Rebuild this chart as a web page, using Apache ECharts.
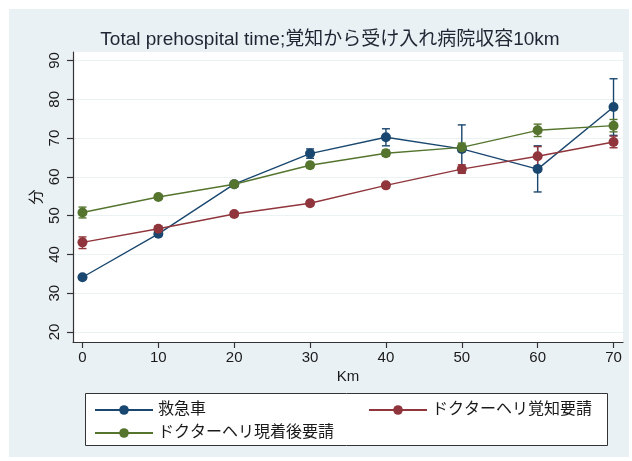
<!DOCTYPE html>
<html><head><meta charset="utf-8">
<script src="https://cdn.jsdelivr.net/npm/echarts@6/dist/echarts.min.js"></script>
<style>html,body{margin:0;padding:0;background:#fff}#c{width:632px;height:461px}</style>
</head><body><div id="c"></div>
<script>
const km = [0, 10, 20, 30, 40, 50, 60, 70];
const xTicks = [0, 10, 20, 30, 40, 50, 60, 70];
const yTicks = [20, 30, 40, 50, 60, 70, 80, 90];

const names = ['救急車', 'ドクターヘリ覚知要請', 'ドクターヘリ現着後要請'];

const ambulance   = [34.1, 45.3, 58.1, 66.0, 70.2, 67.2, 62.0, 78.0];
const ambulanceLo = [33.6, 44.7, 57.5, 64.8, 68.0, 61.1, 56.1, 70.7];
const ambulanceHi = [34.6, 45.9, 58.7, 67.2, 72.4, 73.4, 68.0, 85.3];

const heliCall    = [43.1, 46.6, 50.4, 53.2, 57.8, 62.0, 65.3, 69.0];
const heliCallLo  = [41.5, 45.9, 49.8, 52.6, 57.1, 60.9, 62.8, 67.5];
const heliCallHi  = [44.5, 47.3, 51.0, 53.8, 58.5, 63.1, 67.8, 70.5];

const heliScene   = [50.8, 54.8, 58.1, 63.0, 66.1, 67.6, 72.0, 73.2];
const heliSceneLo = [49.4, 54.2, 57.4, 62.3, 65.3, 66.5, 70.4, 71.6];
const heliSceneHi = [52.2, 55.4, 58.8, 63.7, 66.9, 68.7, 73.6, 74.8];

const colors = ['#1a476f', '#90353b', '#55752f'];
const FONT = '"Liberation Sans", "Noto Sans CJK JP", sans-serif';

function pts(vals) { return km.map((x, i) => [x, vals[i]]); }
function errs(lo, hi) { return km.map((x, i) => [x, lo[i], hi[i]]); }

function errSeries(lo, hi, color) {
  return {
    type: 'custom',
    data: errs(lo, hi),
    z: 2,
    silent: true,
    renderItem: function (params, api) {
      const x = api.value(0);
      const a = api.coord([x, api.value(1)]);
      const b = api.coord([x, api.value(2)]);
      const w = 4;
      const st = { stroke: color, lineWidth: 1.4 };
      return {
        type: 'group',
        children: [
          { type: 'line', shape: { x1: a[0], y1: a[1], x2: b[0], y2: b[1] }, style: st },
          { type: 'line', shape: { x1: a[0] - w, y1: a[1], x2: a[0] + w, y2: a[1] }, style: st },
          { type: 'line', shape: { x1: b[0] - w, y1: b[1], x2: b[0] + w, y2: b[1] }, style: st }
        ]
      };
    }
  };
}

function lineSeries(name, vals, color) {
  return {
    name: name, type: 'line', data: pts(vals), z: 3,
    symbol: 'circle', symbolSize: 10,
    itemStyle: { color: color },
    lineStyle: { color: color, width: 1.4 },
    emphasis: { disabled: true }
  };
}

const legendText = { fontSize: 16, color: '#1a1a1a', fontFamily: FONT };
function legendAt(name, left, top) {
  return {
    data: [name], left: left, top: top, itemWidth: 58, itemHeight: 12,
    textStyle: legendText, selectedMode: false, itemGap: 8, padding: 0
  };
}

const chart = echarts.init(document.getElementById('c'), null, { renderer: 'canvas' });
chart.setOption({
  animation: false,
  color: colors,
  graphic: [
    { type: 'rect', z: -10, shape: { x: 9, y: 9, width: 620, height: 448 }, style: { fill: '#eaf1f4' } },
    { type: 'rect', z: -9, shape: { x: 73, y: 52, width: 550, height: 290 }, style: { fill: '#ffffff' } },
    { type: 'rect', z: -8, shape: { x: 85.5, y: 393.5, width: 522, height: 52 }, style: { fill: '#ffffff', stroke: '#333333', lineWidth: 1 } }
  ],
  title: {
    text: 'Total prehospital time;覚知から受け入れ病院収容10km',
    left: 325, top: 25, textAlign: 'center',
    textStyle: { fontSize: 19, fontWeight: 'normal', color: '#1e2633', fontFamily: FONT }
  },
  legend: [
    legendAt(names[0], 94, 402),
    legendAt(names[1], 368, 402),
    legendAt(names[2], 94, 425)
  ],
  grid: { left: 73, right: 9, top: 52, bottom: 119, containLabel: false },
  xAxis: {
    type: 'value', min: -1.25, max: 71.25,
    name: 'Km', nameLocation: 'middle', nameGap: 27, nameMoveOverlap: false,
    nameTextStyle: { fontSize: 15, color: '#1a1a1a', fontFamily: FONT },
    axisLine: { show: true, onZero: false, lineStyle: { color: '#333', width: 1.2 } },
    axisTick: { show: true, length: 6, customValues: xTicks, lineStyle: { color: '#333', width: 1.2 } },
    axisLabel: { customValues: xTicks, fontSize: 15, color: '#1a1a1a', margin: 8, fontFamily: FONT },
    splitLine: { show: false }
  },
  yAxis: {
    type: 'value', min: 17.4, max: 92.2,
    name: '分', nameLocation: 'middle', nameGap: 29, nameRotate: 90, nameMoveOverlap: false,
    nameTextStyle: { fontSize: 15, color: '#1a1a1a', fontFamily: FONT },
    axisLine: { show: true, onZero: false, lineStyle: { color: '#333', width: 1.2 } },
    axisTick: { show: true, length: 6, customValues: yTicks, lineStyle: { color: '#333', width: 1.2 } },
    axisLabel: { customValues: yTicks, rotate: 90, fontSize: 15, color: '#1a1a1a', margin: 11, fontFamily: FONT },
    splitLine: { show: true, lineStyle: { color: '#eaf2f3', width: 1.2 } }
  },
  series: [
    errSeries(ambulanceLo, ambulanceHi, colors[0]),
    errSeries(heliCallLo, heliCallHi, colors[1]),
    errSeries(heliSceneLo, heliSceneHi, colors[2]),
    lineSeries(names[0], ambulance, colors[0]),
    lineSeries(names[1], heliCall, colors[1]),
    lineSeries(names[2], heliScene, colors[2])
  ]
});
</script></body></html>
